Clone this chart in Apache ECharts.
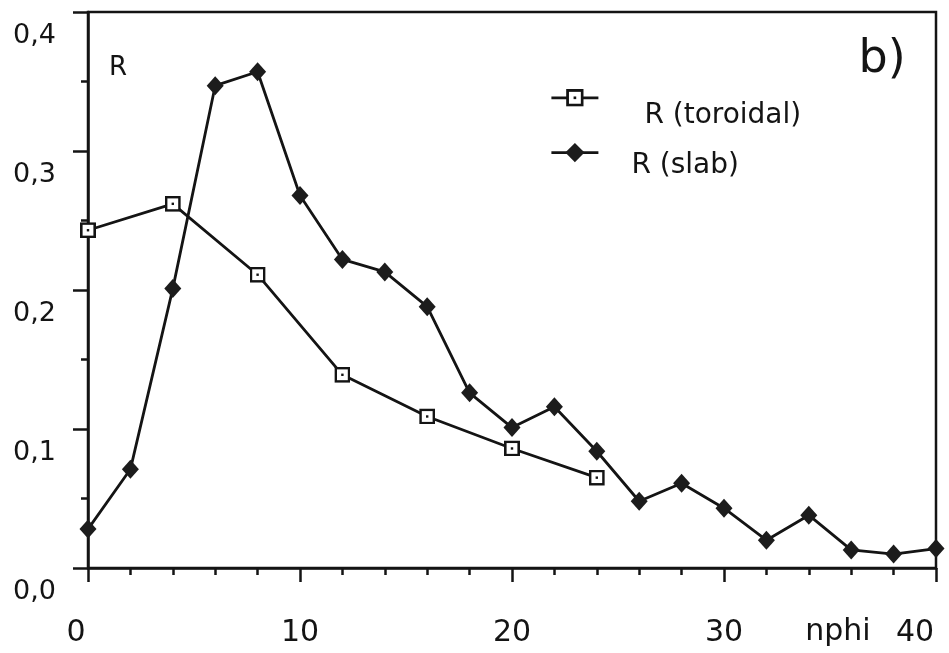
<!DOCTYPE html>
<html>
<head>
<meta charset="utf-8">
<script src="https://cdn.jsdelivr.net/npm/echarts@6/dist/echarts.min.js"></script>
<style>
html,body{margin:0;padding:0;background:#fff;}
#chart{width:949px;height:653px;}
</style>
</head>
<body>
<div id="chart"></div>
<script>
// ---- data ----
var slabX = [0, 2, 4, 6, 8, 10, 12, 14, 16, 18, 20, 22, 24, 26, 28, 30, 32, 34, 36, 38, 40];
var slabR = [0.028, 0.071, 0.201, 0.347, 0.357, 0.268, 0.222, 0.213, 0.188, 0.126, 0.101, 0.116, 0.084, 0.048, 0.061, 0.043, 0.020, 0.038, 0.013, 0.010, 0.014];
var torX = [0, 4, 8, 12, 16, 20, 24];
var torR = [0.243, 0.262, 0.211, 0.139, 0.109, 0.086, 0.065];
var xTickLabels = ['0', '10', '20', '30', '40'];
var yTickLabels = ['0,0', '0,1', '0,2', '0,3', '0,4'];
var seriesNames = ['R (toroidal)', 'R (slab)'];

var INK = '#141414';
var FONT = 'DejaVu Sans';

var squareSvg = "<svg xmlns='http://www.w3.org/2000/svg' width='16' height='16' viewBox='0 0 16 16'>" +
  "<rect x='1.3' y='1.3' width='13.4' height='13.4' fill='white' stroke='#141414' stroke-width='2.6'/>" +
  "<rect x='6.8' y='6.8' width='2.4' height='2.4' fill='#141414'/></svg>";
var squareSymbol = 'image://data:image/svg+xml;charset=utf-8,' + encodeURIComponent(squareSvg);

function pairs(xs, ys) { return xs.map(function (x, i) { return [x, ys[i]]; }); }

var chart = echarts.init(document.getElementById('chart'), null, {renderer: 'canvas'});
chart.setOption({
  backgroundColor: '#fff',
  animation: false,
  grid: {
    left: 88, right: 13, top: 12, bottom: 85,
    show: true, borderColor: INK, borderWidth: 2.5, backgroundColor: 'transparent'
  },
  xAxis: {
    type: 'value', min: 0, max: 40, interval: 10,
    axisLine: {show: true, lineStyle: {color: INK, width: 2.5}},
    axisTick: {show: true, inside: false, length: 14, lineStyle: {color: INK, width: 2.5}},
    minorTick: {show: true, splitNumber: 5, length: 7, lineStyle: {color: INK, width: 2.5}},
    splitLine: {show: false},
    axisLabel: {
      margin: 50,
      color: INK, fontFamily: FONT, fontSize: 30,
      formatter: function (v) {
        var i = Math.round(v / 10);
        if (i === 0) return '{first|' + xTickLabels[i] + '}';
        if (i === 4) return '{last|' + xTickLabels[i] + '}';
        return xTickLabels[i];
      },
      rich: {
        first: {color: INK, fontFamily: FONT, fontSize: 30, padding: [0, 24, 0, 0]},
        last: {color: INK, fontFamily: FONT, fontSize: 30, padding: [0, 42, 0, 0]}
      }
    }
  },
  yAxis: {
    type: 'value', min: 0, max: 0.4, interval: 0.1,
    axisLine: {show: true, lineStyle: {color: INK, width: 2.5}},
    axisTick: {show: true, inside: false, length: 15, lineStyle: {color: INK, width: 2.5}},
    minorTick: {show: true, splitNumber: 2, length: 7, lineStyle: {color: INK, width: 2.5}},
    splitLine: {show: false},
    axisLabel: {
      margin: 32,
      color: INK, fontFamily: FONT, fontSize: 27,
      verticalAlign: 'top', lineHeight: 48,
      formatter: function (v) { return yTickLabels[Math.round(v * 10)]; }
    }
  },
  legend: [
    {
      data: [seriesNames[0]], left: 550, top: 89, orient: 'vertical',
      itemWidth: 47, itemHeight: 22, padding: 0,
      lineStyle: {color: INK, width: 2.8},
      formatter: function (n) { return '{t|' + n + '}'; },
      textStyle: {
        color: INK, fontFamily: FONT, fontSize: 28,
        rich: {t: {color: INK, fontFamily: FONT, fontSize: 28, padding: [36, 0, 0, 41]}}
      }
    },
    {
      data: [seriesNames[1]], left: 550, top: 143, orient: 'vertical',
      itemWidth: 47, itemHeight: 24, padding: 0,
      lineStyle: {color: INK, width: 2.8},
      formatter: function (n) { return '{t|' + n + '}'; },
      textStyle: {
        color: INK, fontFamily: FONT, fontSize: 28,
        rich: {t: {color: INK, fontFamily: FONT, fontSize: 28, padding: [26, 0, 0, 28]}}
      }
    }
  ],
  graphic: [
    {type: 'text', left: 109, top: 55, style: {text: 'R', fontSize: 26, fontFamily: FONT, fill: INK}},
    {type: 'text', x: 838, y: 632, style: {text: 'nphi', fontSize: 30, fontFamily: FONT, fill: INK, align: 'center', verticalAlign: 'middle'}},
    {type: 'text', x: 882, y: 60, style: {text: 'b)', fontSize: 46, fontFamily: FONT, fill: INK, align: 'center', verticalAlign: 'middle'}}
  ],
  series: [
    {
      name: seriesNames[0], type: 'line', data: pairs(torX, torR),
      symbol: squareSymbol, symbolSize: 16, showAllSymbol: true,
      lineStyle: {color: INK, width: 2.8}, itemStyle: {color: INK}, z: 3
    },
    {
      name: seriesNames[1], type: 'line', data: pairs(slabX, slabR),
      symbol: 'diamond', symbolSize: [17, 19], showAllSymbol: true,
      lineStyle: {color: INK, width: 2.8}, itemStyle: {color: '#1c1c1c'}, z: 2
    }
  ]
});
</script>
</body>
</html>
